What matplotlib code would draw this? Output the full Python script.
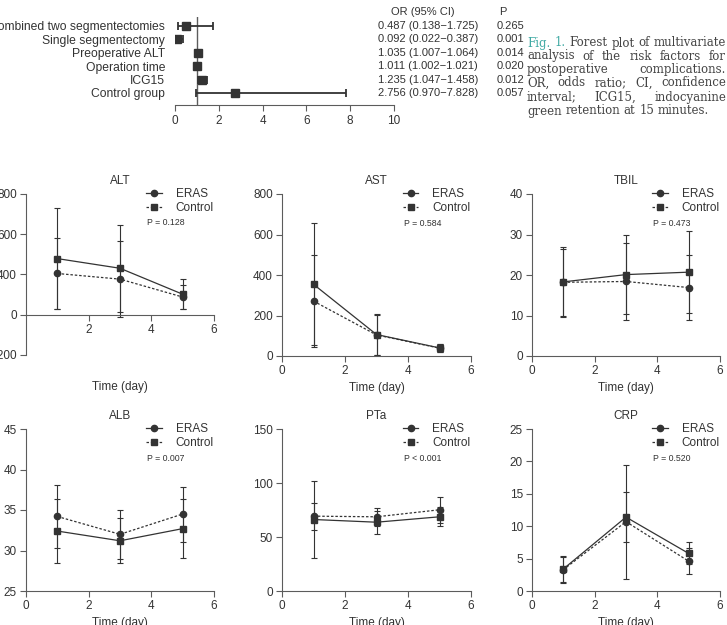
import matplotlib
matplotlib.use('Agg')
import matplotlib.pyplot as plt
from matplotlib.lines import Line2D
from matplotlib.transforms import blended_transform_factory

plt.rcParams['font.family'] = ['Liberation Sans', 'DejaVu Sans']
plt.rcParams['font.size'] = 8.5

ink = '#333333'
axc = '#5c5c5c'
teal = '#3fa9a3'

# forest plot data
factors = ['Combined two segmentectomies', 'Single segmentectomy', 'Preoperative ALT',
           'Operation time', 'ICG15', 'Control group']
odds = [0.487, 0.092, 1.035, 1.011, 1.235, 2.756]
ci_low = [0.138, 0.022, 1.007, 1.002, 1.047, 0.970]
ci_high = [1.725, 0.387, 1.064, 1.021, 1.458, 7.828]
p_vals = ['0.265', '0.001', '0.014', '0.020', '0.012', '0.057']
forest_ticks = [0, 2, 4, 6, 8, 10]

caption = ['Fig. 1. Forest plot of multivariate',
           'analysis of the risk factors for',
           'postoperative complications.',
           'OR, odds ratio; CI, confidence',
           'interval; ICG15, indocyanine',
           'green retention at 15 minutes.']

# time course data (solid line = squares, dotted line = circles)
days = [1, 3, 5]

alt_solid = [279, 231, 102]
alt_solid_err = [250, 217, 75]
alt_dot = [205, 177, 88]
alt_dot_err = [178, 187, 60]

ast_solid = [354, 106, 40]
ast_solid_err = [302, 100, 21]
ast_dot = [271, 104, 39]
ast_dot_err = [227, 98, 18]

tbil_solid = [18.3, 20.1, 20.7]
tbil_solid_err = [8.6, 9.7, 10.2]
tbil_dot = [18.2, 18.4, 16.9]
tbil_dot_err = [8.2, 9.5, 8.0]

alb_solid = [32.4, 31.2, 32.7]
alb_solid_err = [3.9, 2.8, 3.6]
alb_dot = [34.2, 32.0, 34.5]
alb_dot_err = [3.9, 3.0, 3.4]

pta_solid = [66.2, 63.7, 68.7]
pta_solid_err = [35.8, 10.5, 8.7]
pta_dot = [69.3, 68.7, 75.2]
pta_dot_err = [12.5, 8.4, 12.0]

crp_solid = [3.4, 11.4, 5.8]
crp_solid_err = [2.0, 3.9, 1.7]
crp_dot = [3.3, 10.7, 4.6]
crp_dot_err = [2.0, 8.8, 2.0]

alt_yticks = [-200, 0, 200, 400, 600]
alt_ylabels = ['-200', '0', '400', '600', '800']

panels = [
    ('ALT', alt_solid, alt_solid_err, alt_dot, alt_dot_err, (-200, 600), alt_yticks, alt_ylabels, 'P = 0.128'),
    ('AST', ast_solid, ast_solid_err, ast_dot, ast_dot_err, (0, 800), [0, 200, 400, 600, 800], None, 'P = 0.584'),
    ('TBIL', tbil_solid, tbil_solid_err, tbil_dot, tbil_dot_err, (0, 40), [0, 10, 20, 30, 40], None, 'P = 0.473'),
    ('ALB', alb_solid, alb_solid_err, alb_dot, alb_dot_err, (25, 45), [25, 30, 35, 40, 45], None, 'P = 0.007'),
    ('PTa', pta_solid, pta_solid_err, pta_dot, pta_dot_err, (0, 150), [0, 50, 100, 150], None, 'P < 0.001'),
    ('CRP', crp_solid, crp_solid_err, crp_dot, crp_dot_err, (0, 25), [0, 5, 10, 15, 20, 25], None, 'P = 0.520'),
]

W, H = 727, 625
fig = plt.figure(figsize=(W / 100, H / 100), dpi=100)


def px(l, t, r, b):
    return [l / W, 1 - b / H, (r - l) / W, (b - t) / H]


# ---- forest plot ----
fa = fig.add_axes(px(175, 17, 394, 105))
rows = list(range(len(factors)))
xerr = [[o - l for o, l in zip(odds, ci_low)], [h - o for o, h in zip(odds, ci_high)]]
fa.axvline(1, color=axc, lw=1.0, zorder=1)
fa.errorbar(odds, rows, xerr=xerr, fmt='none', ecolor=ink, elinewidth=1.3, capsize=2.6, capthick=1.3, zorder=2)
fa.plot(odds, rows, 's', color=ink, ms=6, zorder=3)
fa.set_xlim(0, 10)
fa.set_ylim(5.9, -0.67)
fa.set_xticks(forest_ticks)
fa.set_yticks(rows)
fa.set_yticklabels(factors)
fa.tick_params(axis='y', length=0, pad=7, labelcolor=ink, labelsize=8.7)
fa.tick_params(axis='x', colors=axc, labelcolor=ink, length=4, pad=3)
for s in ['left', 'top', 'right']:
    fa.spines[s].set_visible(False)
fa.spines['bottom'].set_color(axc)

tr = blended_transform_factory(fig.transFigure, fa.transData)
fa.text(423 / W, -1.04, 'OR (95% CI)', transform=tr, ha='center', va='center', color=ink, fontsize=8)
fa.text(503 / W, -1.04, 'P', transform=tr, ha='center', va='center', color=ink, fontsize=8)
for r, o, l, h, p in zip(rows, odds, ci_low, ci_high, p_vals):
    fa.text(378 / W, r, f'{o:.3f} ({l:.3f}\u2212{h:.3f})', transform=tr, va='center', color=ink, fontsize=8)
    fa.text(497 / W, r, p, transform=tr, va='center', color=ink, fontsize=8)

# ---- caption, justified word by word ----
renderer = fig.canvas.get_renderer()
cx0, cx1 = 527, 726
cys = [43, 56, 70, 83, 97, 111]
cap_texts = []
for i, (line, y) in enumerate(zip(caption, cys)):
    row = []
    for j, w in enumerate(line.split()):
        c = teal if (i == 0 and j < 2) else '#444444'
        row.append(fig.text(0, 1 - y / H, w, color=c, fontsize=8, family='DejaVu Serif', va='center'))
    cap_texts.append(row)


def natural(row, size):
    ws = [t.get_window_extent(renderer).width for t in row]
    return sum(ws) + 0.318 * size * 100 / 72 * (len(row) - 1)


nat = [natural(row, 8) for row in cap_texts]
size = 8 * min(197 / nat[-1], 199 / max(nat))
for row in cap_texts:
    for t in row:
        t.set_fontsize(size)
space = 0.318 * size * 100 / 72
for i, row in enumerate(cap_texts):
    widths = [t.get_window_extent(renderer).width for t in row]
    if i == len(cap_texts) - 1:
        gap = space
    else:
        gap = (cx1 - cx0 - sum(widths)) / (len(row) - 1)
    x = cx0
    for t, w in zip(row, widths):
        t.set_x(x / W)
        x += w + gap

# ---- time course panels ----
boxes = [(26, 194, 214, 355), (282, 194, 471, 356), (532, 194, 720, 356),
         (26, 429, 214, 591), (282, 429, 471, 591), (532, 429, 720, 591)]

handles = [Line2D([], [], color=ink, lw=0.9, marker='o', ms=4.5),
           Line2D([], [], color=ink, lw=0.9, ls=(0, (2, 1.5)), marker='s', ms=4.5)]

for (name, ys, ye, yd, yde, ylim, yt, ylab, ptxt), (l, t, r, b) in zip(panels, boxes):
    ax = fig.add_axes(px(l, t, r, b))
    ax.errorbar(days, ys, yerr=ye, fmt='none', ecolor=ink, elinewidth=0.8, capsize=2.4, capthick=0.8, zorder=2)
    ax.errorbar(days, yd, yerr=yde, fmt='none', ecolor=ink, elinewidth=0.8, capsize=2.4, capthick=0.8, zorder=2)
    ax.plot(days, yd, color=ink, lw=0.9, ls=(0, (2, 1.5)), marker='o', ms=4.5, zorder=3)
    ax.plot(days, ys, color=ink, lw=0.9, marker='s', ms=4.5, zorder=4)
    ax.set_xlim(0, 6)
    ax.set_ylim(*ylim)
    ax.set_yticks(yt)
    if ylab is not None:
        ax.set_yticklabels(ylab)
        ax.spines['bottom'].set_position(('data', 0))
        ax.set_xticks([2, 4, 6])
    else:
        ax.set_xticks([0, 2, 4, 6])
    for s in ['top', 'right']:
        ax.spines[s].set_visible(False)
    for s in ['left', 'bottom']:
        ax.spines[s].set_color(axc)
    ax.tick_params(colors=axc, labelcolor=ink, length=4, pad=2.5, labelsize=8.5)
    ax.set_title(name, fontsize=8.5, color=ink, pad=7)
    ax.set_xlabel('Time (day)', fontsize=8.5, color=ink, va='top')
    ax.xaxis.set_label_coords(0.5, -0.16)
    ax.legend(handles, ['ERAS', 'Control'], loc='upper left', bbox_to_anchor=(0.64, 1.035),
              frameon=False, borderpad=0, borderaxespad=0, handlelength=1.3, handletextpad=1.2,
              labelspacing=0.12, fontsize=8.5, labelcolor=ink)
    ax.text(0.644, 0.82, ptxt, transform=ax.transAxes, fontsize=6.3, color=ink, va='center')

fig.savefig('out.png', dpi=100)
